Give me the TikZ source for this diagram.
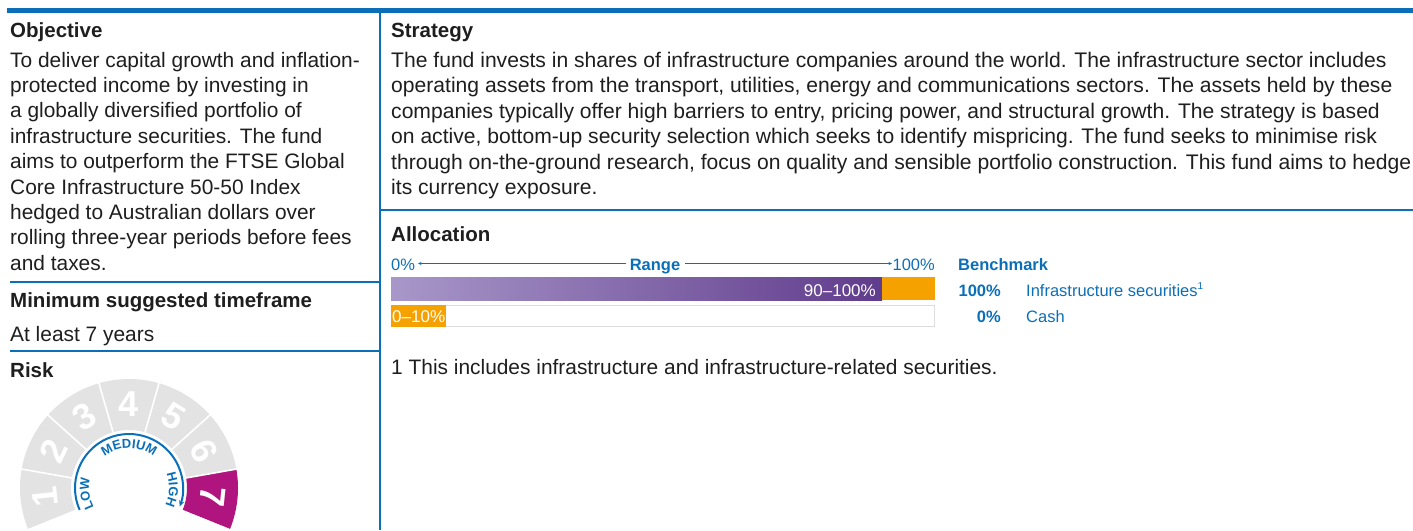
\documentclass[tikz,border=0pt]{standalone}
\usepackage{fontspec}
\setmainfont{Liberation Sans}
\usetikzlibrary{arrows.meta,decorations.text}
\definecolor{ink}{HTML}{1E1E1E}
\definecolor{brand}{HTML}{0B6FB8}
\definecolor{orng}{HTML}{F5A100}
\definecolor{purL}{HTML}{A897C9}
\definecolor{purD}{HTML}{603C8C}
\definecolor{mag}{HTML}{B0147F}
\definecolor{dialgray}{HTML}{E3E3E3}
\definecolor{boxgray}{HTML}{DDDDDD}
\begin{document}
\begin{tikzpicture}[x=1pt,y=-1pt,
  body/.style={anchor=base west,inner sep=0pt,font=\fontsize{20.9}{24}\selectfont,text=ink},
  bodyw/.style={body,font=\fontsize{21.1}{24}\selectfont},
  head/.style={anchor=base west,inner sep=0pt,font=\fontsize{20.5}{24}\selectfont\bfseries,text=ink},
  small/.style={anchor=base west,inner sep=0pt,font=\fontsize{16.5}{20}\selectfont,text=brand},
  smallb/.style={small,font=\fontsize{16.5}{20}\selectfont\bfseries},
  rule/.style={draw=brand,line width=1.5pt},
  rangearrow/.style={draw=brand,line width=0.8pt,-{Stealth[length=3.5pt,width=3pt]}},
  dialnum/.style={inner sep=0pt,font=\fontsize{36}{36}\selectfont\bfseries,text=white},
]
\useasboundingbox (0,0) rectangle (1413,530);
% frame lines
\fill[brand] (7,8) rectangle (1413,12.5);
\coordinate (vtop) at (380,12);
\coordinate (vbot) at (380,530);
\draw[rule] (vtop) -- (vbot);
\coordinate (h1a) at (10,282); \coordinate (h1b) at (380,282);
\coordinate (h2a) at (10,351); \coordinate (h2b) at (380,351);
\coordinate (h3a) at (380,210); \coordinate (h3b) at (1413,210);
\draw[rule] (h1a) -- (h1b);
\draw[rule] (h2a) -- (h2b);
\draw[rule] (h3a) -- (h3b);

% Objective
\node[head] (objh) at (10,37) {Objective};
\foreach \t [count=\i] in {
  {To deliver capital growth and inflation-},
  {protected income by investing in},
  {a globally diversified portfolio of},
  {infrastructure securities. The fund},
  {aims to outperform the FTSE Global},
  {Core Infrastructure 50-50 Index},
  {hedged to Australian dollars over},
  {rolling three-year periods before fees},
  {and taxes.}}
  \node[body] (obj\i) at (10,{67+25.4*(\i-1)}) {\t};

\node[head] (minh) at (10,307) {Minimum suggested timeframe};
\node[body] (mint) at (10,341.5) {At least 7 years};
\node[head] (riskh) at (10,377) {Risk};

% Strategy
\node[head] (strh) at (391,37) {Strategy};
\foreach \t [count=\i] in {
  {The fund invests in shares of infrastructure companies around the world. The infrastructure sector includes},
  {operating assets from the transport, utilities, energy and communications sectors. The assets held by these},
  {companies typically offer high barriers to entry, pricing power, and structural growth. The strategy is based},
  {on active, bottom-up security selection which seeks to identify mispricing. The fund seeks to minimise risk},
  {through on-the-ground research, focus on quality and sensible portfolio construction. This fund aims to hedge},
  {its currency exposure.}}
  \node[bodyw] (str\i) at (391,{67+25.5*(\i-1)}) {\t};

% Allocation
\node[head] (alh) at (391,241) {Allocation};
\node[small] (zp) at (391,270) {0\%};
\node[smallb,anchor=base] (rng) at (655,270) {Range};
\node[small,anchor=base east] (hp) at (935,270) {100\%};
\coordinate (r0) at (418,263.5);
\coordinate (r1) at (626,263.5);
\coordinate (r2) at (685,263.5);
\coordinate (r3) at (892,263.5);
\draw[rangearrow] (r1) -- (r0);
\draw[rangearrow] (r2) -- (r3);

\shade[left color=purL,right color=purD] (391,277) rectangle (882,300);
\fill[orng] (882,277) rectangle (935,300);
\node[small,anchor=base east,text=white,font=\fontsize{17}{20}\selectfont] (b1t) at (876,296) {90–100\%};
\draw[boxgray,line width=1pt,fill=white] (391.5,305.5) rectangle (934.5,326.5);
\fill[orng] (391,305) rectangle (446,327);
\node[small,text=white,font=\fontsize{17}{20}\selectfont] (b2t) at (392,322) {0–10\%};

% Benchmark
\node[smallb] (bmh) at (958,270) {Benchmark};
\node[smallb,anchor=base east] (bm1p) at (1001,296) {100\%};
\node[small] (bm1t) at (1026,296) {Infrastructure securities\raisebox{6.5pt}{\fontsize{10}{10}\selectfont 1}};
\node[smallb,anchor=base east] (bm2p) at (1001,322) {0\%};
\node[small] (bm2t) at (1026,322) {Cash};

% footnote
\node[body] (fn) at (391,374) {1 This includes infrastructure and infrastructure-related securities.};

% Risk dial (visual angle phi -> coordinate angle -phi because y is flipped)
\begin{scope}[shift={(129,488)}]
  \foreach \k in {1,...,7} {
    \pgfmathsetmacro{\aS}{-(234-32*\k)}
    \pgfmathsetmacro{\aE}{-(202-32*\k)}
    \pgfmathsetmacro{\ph}{218-32*\k}
    \ifnum\k=7 \def\segc{mag}\else\def\segc{dialgray}\fi
    \fill[\segc] (\aS:58) arc[start angle=\aS,end angle=\aE,radius=58]
        -- (\aE:109) arc[start angle=\aE,end angle=\aS,radius=109] -- cycle;
    \node[dialnum,rotate=\ph-90] (num\k) at (-\ph:84) {\k};
  }
  \foreach \k in {1,...,6} {
    \pgfmathsetmacro{\sep}{-(202-32*\k)}
    \draw[white,line width=1.6pt] (\sep:56) -- (\sep:111);
  }
  \draw[brand,line width=2pt,-{Stealth[length=6pt,width=5.5pt]}]
    (-204:54) arc[start angle=-204,end angle=20,radius=54];
  \path[decorate,decoration={text along path,text align=center,text color=brand,
      text={|\fontsize{13}{13}\selectfont\bfseries|MEDIUM}}]
    (-140:40) arc[start angle=-140,end angle=-40,radius=40];
  \path[decorate,decoration={text along path,text align=center,text color=brand,
      text={|\fontsize{13}{13}\selectfont\bfseries|LOW}}]
    (-215:40) arc[start angle=-215,end angle=-160,radius=40];
  \path[decorate,decoration={text along path,text align=center,text color=brand,
      text={|\fontsize{13}{13}\selectfont\bfseries|HIGH}}]
    (-25:40) arc[start angle=-25,end angle=30,radius=40];
\end{scope}
\end{tikzpicture}
\end{document}
